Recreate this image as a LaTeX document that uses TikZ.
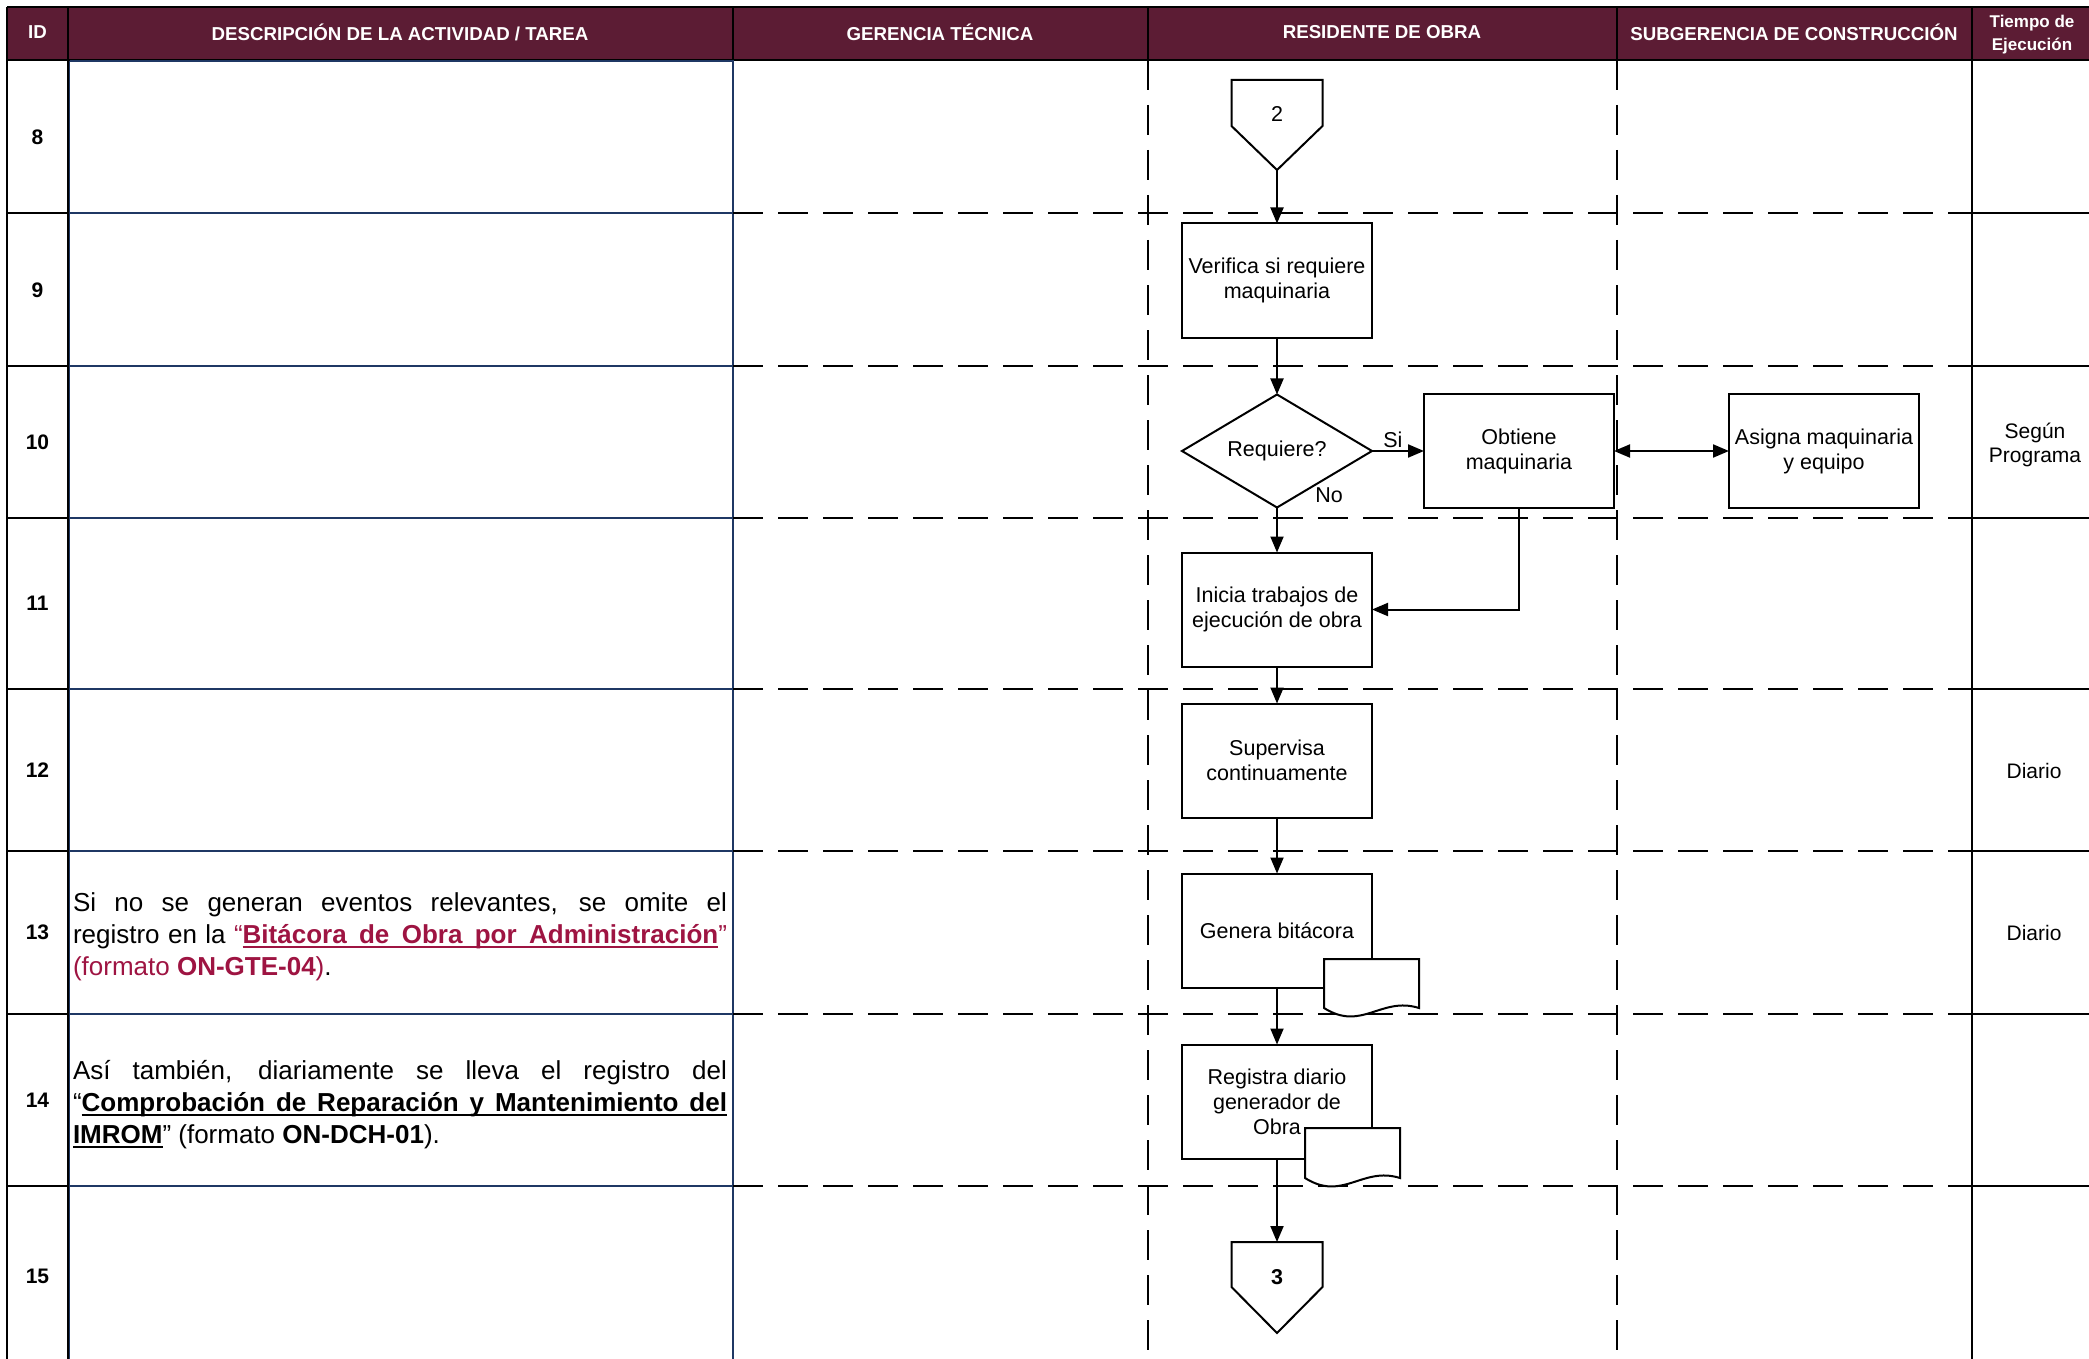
\documentclass[tikz,border=0pt]{standalone}
\usepackage{fontspec}
\setmainfont{Liberation Sans}
\usetikzlibrary{shapes.geometric, arrows.meta, positioning, calc}
\definecolor{guinda}{RGB}{92,28,52}
\definecolor{marino}{RGB}{31,56,100}
\definecolor{vino}{RGB}{158,20,66}
% palabra y espacio subrayados
\newcommand\sbpal[1]{\setbox0\hbox{#1}\rlap{\rule[-4.5pt]{\wd0}{2pt}}\box0}
\newcommand\sbesp{\leaders\hrule height -2.5pt depth 4.5pt\hskip 0.28em plus 0.6em\relax}

\begin{document}
\begin{tikzpicture}[x=1pt, y=-1pt, every node/.style={font=\fontsize{21.5}{25}\selectfont},
  linea/.style={line width=2pt},
  azul/.style={draw=marino, line width=1.6pt},
  guiones/.style={line width=2pt, dash pattern=on 30pt off 15pt},
  titulo/.style={text=white, font=\fontsize{18.7}{22}\selectfont\bfseries},
  numero/.style={font=\fontsize{21}{25}\selectfont\bfseries},
  tiempo/.style={align=center, font=\fontsize{21}{24}\selectfont},
  texto/.style={text width=654pt, align=justify, inner sep=0pt, font=\fontsize{26}{32}\selectfont},
  proceso/.style={draw, line width=2pt, fill=white, minimum width=190pt, minimum height=114pt, align=center, inner sep=2pt, outer sep=0pt},
  decision/.style={draw, diamond, aspect=1.7, line width=2pt, fill=white, minimum width=190pt, minimum height=113pt, inner sep=1pt, outer sep=0pt},
  conector/.style={inner sep=1pt},
  documento/.style={draw, line width=2pt, fill=white},
  flecha/.style={line width=2pt, -{Triangle[length=16pt,width=13pt]}},
  flecha2/.style={line width=2pt, {Triangle[length=16pt,width=13pt]}-{Triangle[length=16pt,width=13pt]}}]
\useasboundingbox (0,0) rectangle (2089,1359);
% Encabezado
\fill[guinda] (7,7) rectangle (2089,60);
\draw[linea] (7,7) -- (2089,7);
\draw[linea] (7,60) -- (2089,60);
\draw[linea] (733,7) -- (733,60);
\draw[linea] (1148,7) -- (1148,60);
\draw[linea] (1617,7) -- (1617,60);
\node[titulo] (hid) at (37.5,32) {ID};
\node[titulo] (hdesc) at (400,32) {DESCRIPCIÓN DE LA ACTIVIDAD / TAREA};
\node[titulo] (hger) at (940,32) {GERENCIA TÉCNICA};
\node[titulo] (hres) at (1382,32) {RESIDENTE DE OBRA};
\node[titulo] (hsub) at (1794,32) {SUBGERENCIA DE CONSTRUCCIÓN};
\node[titulo, font=\fontsize{17}{23}\selectfont\bfseries, align=center] (htiem) at (2032,35) {Tiempo de\\Ejecución};
% Columnas
\draw[linea] (7,7) -- (7,1359);
\draw[linea] (67.5,7) -- (67.5,1359);
\draw[azul] (69.5,61) -- (69.5,1359);
\draw[azul] (69.5,61) -- (733,61);
\draw[azul] (733,60) -- (733,1359);
\draw[guiones] (1148,60) -- (1148,1359);
\draw[guiones] (1617,60) -- (1617,1359);
\draw[linea] (1972,7) -- (1972,1359);
% Filas
\foreach \y in {213,366,518,689,851,1014,1186} {
  \draw[linea] (7,\y) -- (68,\y);
  \draw[azul] (69,\y) -- (733,\y);
  \draw[guiones] (733,\y) -- (1972,\y);
  \draw[linea] (1972,\y) -- (2089,\y);
}
\foreach \n/\y in {8/137,9/290,10/442,11/603,12/770,13/932,14/1100,15/1276}
  \node[numero] (id\n) at (37.5,\y) {\n};
% Descripciones
\node[texto] (d13) at (400,937) {Si no se generan eventos relevantes, se omite el\linebreak registro en la {\color{vino}“\textbf{\sbpal{Bitácora}\sbesp\sbpal{de}\sbesp\sbpal{Obra}\sbesp\sbpal{por}\sbesp\sbpal{Administración}}”}\linebreak {\color{vino}(formato \textbf{ON-GTE-04})}.};
\node[texto] (d14) at (400,1105) {Así también, diariamente se lleva el registro del\linebreak “\textbf{\sbpal{Comprobación}\sbesp\sbpal{de}\sbesp\sbpal{Reparación}\sbesp\sbpal{y}\sbesp\sbpal{Mantenimiento}\sbesp\sbpal{del}}\linebreak \textbf{\sbpal{IMROM}}” (formato \textbf{ON-DCH-01}).};
% Tiempos
\node[tiempo] (t10) at (2035,445) {Según\\Programa};
\node[tiempo] (t12) at (2034,771) {Diario};
\node[tiempo] (t13) at (2034,933) {Diario};
% Conector de entrada
\node[conector] (c2) at (1277,114) {2};
\draw[linea] (c2) ++(-45.5,-34) -- ++(91,0) -- ++(0,46) -- ++(-45.5,44) coordinate (c2tip) -- ++(-45.5,-44) -- cycle;
% Flujo
\node[proceso] (verifica) at (1277,280.5) {Verifica si requiere\\maquinaria};
\node[decision, below=57pt of verifica] (requiere) {Requiere?};
\node[proceso, right=52pt of requiere] (obtiene) {Obtiene\\maquinaria};
\node[proceso, right=115pt of obtiene] (asigna) {Asigna maquinaria\\y equipo};
\node[proceso, below=45pt of requiere] (inicia) {Inicia trabajos de\\ejecución de obra};
\node[proceso, below=37pt of inicia] (supervisa) {Supervisa\\continuamente};
\node[proceso, below=56pt of supervisa] (genera) {Genera bitácora};
\node[proceso, below=57pt of genera] (registra) {Registra diario\\generador de\\Obra};
% Documentos
\draw[documento] (1324,959) -- (1419,959) -- (1419,1008) .. controls (1381,996) and (1362,1032) .. (1324,1008) -- cycle;
\draw[documento] (1305,1128) -- (1400,1128) -- (1400,1178) .. controls (1362,1166) and (1343,1202) .. (1305,1178) -- cycle;
% Conector de salida
\node[conector, font=\fontsize{21.5}{25}\selectfont\bfseries] (c3) at (1277,1277) {3};
\coordinate (c3top) at ($(c3)+(0,-35)$);
\draw[linea] (c3top) -- ++(45.5,0) -- ++(0,45) -- ++(-45.5,46) -- ++(-45.5,-46) -- ++(0,-45) -- cycle;
% Flechas
\draw[flecha] (c2tip) -- (verifica);
\draw[flecha] (verifica) -- (requiere);
\draw[flecha] (requiere) -- node[above, pos=0.4, inner sep=2pt]{Si} (obtiene);
\draw[flecha] (requiere) -- node[pos=0, above right, xshift=34pt]{No} (inicia);
\draw[flecha] (obtiene) |- (inicia);
\draw[flecha2] (obtiene) -- (asigna);
\draw[flecha] (inicia) -- (supervisa);
\draw[flecha] (supervisa) -- (genera);
\draw[flecha] (genera) -- (registra);
\draw[flecha] (registra) -- (c3top);
\end{tikzpicture}
\end{document}
